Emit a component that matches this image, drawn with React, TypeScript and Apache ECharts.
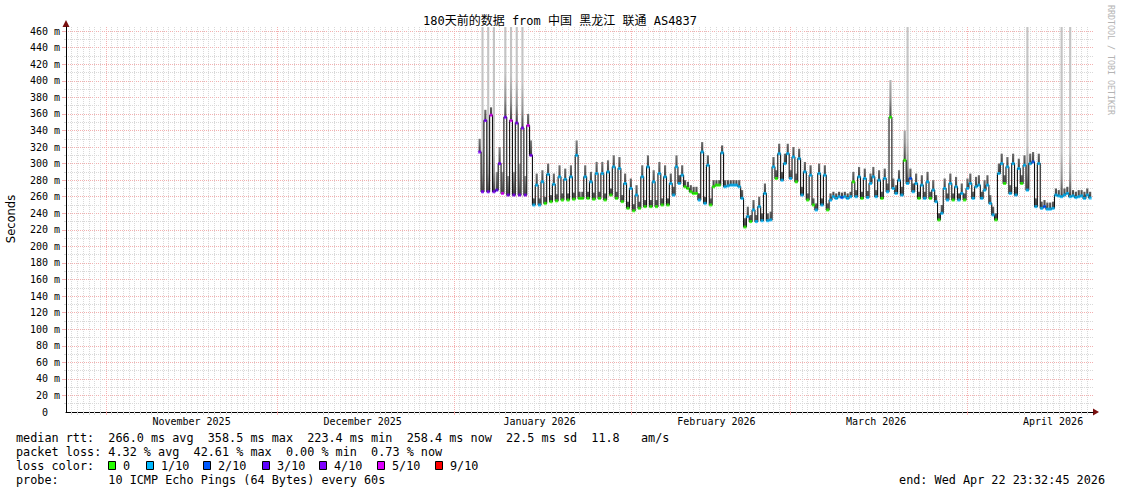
import React, { useEffect, useRef } from "react";
import * as echarts from "echarts";

// ---- time axis: days since 2025-10-25 00:00 (180-day window) ----
const X_MIN = 0;
const X_MAX = 180;
const Y_MAX = 465;
const START_DAY = 72.5; // first sample (2026-01-05 12:00)
const STEP_DAYS = 0.5; // one sample every 12 hours

const monthStartDays = [7, 37, 68, 99, 127, 158];
const monthLabelDays = [22, 52, 83, 114, 142, 173];
const monthLabels = ["November 2025", "December 2025", "January 2026", "February 2026", "March 2026", "April 2026"];

const yLabelTicks = [0, 20, 40, 60, 80, 100, 120, 140, 160, 180, 200, 220, 240, 260, 280, 300, 320, 340, 360, 380, 400, 420, 440, 460];
const yMajorLines = [20, 40, 60, 80, 100, 120, 140, 160, 180, 200, 220, 240, 260, 280, 300, 320, 340, 360, 380, 400, 420, 440, 460];
const yMinorLines = [10, 30, 50, 70, 90, 110, 130, 150, 170, 190, 210, 230, 250, 270, 290, 310, 330, 350, 370, 390, 410, 430, 450];

// median RTT (ms), one value per 12 h
const medianRtt = [
  314, 266, 352, 266, 358.5, 266, 268, 300, 264, 356,
  262, 352, 262, 349, 262, 343, 262, 346, 310, 250,
  274, 250, 278, 252, 287, 254, 275, 255, 284, 256,
  281, 256, 284, 257, 310, 258, 258, 284, 258, 278,
  257, 288, 258, 288, 256, 290, 262, 296, 258, 294,
  254, 276, 246, 270, 243, 262, 246, 284, 248, 296,
  248, 278, 248, 288, 250, 284, 250, 276, 262, 296,
  276, 286, 272, 270, 266, 264, 264, 256, 314, 252,
  298, 250, 272, 274, 274, 313, 272, 273, 274, 274,
  274, 272, 258, 223.4, 236, 230, 244, 230, 248, 231,
  264, 231, 232, 296, 282, 312, 280, 300, 312, 282,
  308, 278, 306, 262, 290, 256, 286, 250, 244, 288,
  250, 286, 244, 256, 260, 258, 260, 259, 260, 258,
  260, 278, 260, 284, 258, 282, 259, 276, 284, 260,
  280, 258, 282, 266, 356, 270, 264, 280, 262, 304,
  276, 282, 266, 276, 258, 274, 258, 278, 258, 268,
  254, 232, 240, 270, 256, 276, 256, 272, 256, 264,
  256, 270, 276, 258, 272, 274, 258, 268, 274, 252,
  238, 232, 288, 300, 276, 296, 264, 300, 262, 294,
  276, 298, 268, 300, 302, 248, 300, 246, 248, 245,
  245, 246, 262, 261, 260, 262, 264, 260, 261, 259,
  260, 261, 258, 262, 258.4,
];

// highest ping of each sample (top of the smoke), ms
const smokeHigh = [
  330, 470, 365, 470, 368, 470, 290, 320, 290, 470,
  285, 470, 290, 470, 300, 470, 285, 360, 328, 258,
  288, 258, 292, 260, 300, 262, 288, 263, 298, 264,
  294, 264, 298, 265, 328, 266, 266, 298, 266, 290,
  265, 302, 266, 302, 264, 304, 270, 310, 266, 308,
  262, 288, 254, 282, 251, 274, 254, 298, 256, 310,
  256, 292, 256, 302, 258, 298, 258, 288, 272, 310,
  286, 298, 280, 278, 274, 272, 272, 264, 326, 260,
  310, 258, 280, 280, 280, 322, 280, 280, 280, 280,
  280, 280, 268, 234, 248, 238, 256, 238, 260, 240,
  276, 240, 242, 308, 292, 324, 290, 312, 324, 292,
  320, 288, 318, 272, 302, 264, 298, 258, 252, 300,
  258, 298, 252, 264, 266, 264, 266, 265, 266, 264,
  266, 290, 268, 296, 266, 294, 267, 288, 296, 268,
  292, 266, 294, 276, 401, 282, 274, 292, 272, 340,
  470, 294, 276, 288, 266, 286, 266, 290, 266, 280,
  262, 240, 250, 282, 264, 288, 264, 284, 264, 276,
  264, 282, 288, 266, 284, 286, 266, 280, 286, 262,
  248, 240, 300, 312, 286, 308, 274, 312, 272, 306,
  286, 310, 470, 312, 314, 258, 312, 254, 256, 253,
  253, 254, 270, 268, 470, 270, 272, 470, 268, 266,
  268, 268, 266, 270, 266,
];

// packet loss level per sample (x/10)
const lossLevel = [
  4, 4, 4, 4, 5, 4, 3, 4, 5, 4,
  4, 5, 4, 4, 4, 4, 4, 5, 4, 1,
  1, 1, 1, 0, 1, 0, 1, 0, 1, 0,
  1, 0, 1, 0, 1, 0, 0, 1, 0, 1,
  0, 1, 0, 1, 0, 1, 0, 1, 0, 1,
  0, 1, 0, 1, 0, 1, 0, 1, 0, 1,
  0, 1, 0, 1, 0, 1, 0, 1, 1, 1,
  1, 1, 0, 0, 0, 0, 0, 1, 1, 1,
  1, 0, 0, 0, 0, 1, 1, 1, 1, 1,
  1, 1, 1, 0, 1, 0, 1, 1, 1, 1,
  1, 1, 1, 1, 0, 1, 1, 1, 1, 1,
  1, 0, 1, 1, 1, 0, 1, 0, 1, 1,
  1, 1, 0, 1, 1, 1, 1, 2, 1, 1,
  1, 0, 1, 1, 0, 1, 1, 1, 1, 1,
  1, 0, 1, 1, 0, 1, 1, 1, 1, 0,
  1, 2, 1, 1, 0, 1, 1, 1, 0, 1,
  1, 0, 1, 1, 1, 1, 0, 1, 1, 1,
  0, 1, 1, 1, 1, 1, 1, 1, 1, 1,
  1, 0, 1, 1, 0, 1, 1, 1, 1, 1,
  0, 1, 1, 1, 2, 1, 1, 1, 2, 1,
  1, 1, 1, 1, 1, 1, 1, 1, 1, 1,
  1, 1, 1, 1, 1,
];

const lossColors: Record<number, string> = {
  0: "#26ff00",
  1: "#00b8ff",
  2: "#0059ff",
  3: "#5e00ff",
  4: "#7e00ff",
  5: "#dd00ff",
  9: "#ff0000",
};
const lossLegendLabels = ["0", "1/10", "2/10", "3/10", "4/10", "5/10", "9/10"];
const lossLegendLevels = [0, 1, 2, 3, 4, 5, 9];

const TITLE = "180天前的数据 from 中国 黑龙江 联通 AS4837";
const statLines = [
  "median rtt:  266.0 ms avg  358.5 ms max  223.4 ms min  258.4 ms now  22.5 ms sd  11.8   am/s",
  "packet loss: 4.32 % avg  42.61 % max  0.00 % min  0.73 % now",
];
const probeText = "probe:       10 ICMP Echo Pings (64 Bytes) every 60s";
const endText = "end: Wed Apr 22 23:32:45 2026";

const MONO = '"DejaVu Sans Mono", monospace';
const MINOR_GRID = "#d9d9d9";
const MAJOR_GRID = "#f3b0b0";

export default function App() {
  const ref = useRef<HTMLDivElement>(null);

  useEffect(() => {
    if (!ref.current) return;
    const chart = echarts.init(ref.current, null, { renderer: "svg" });

    const xs = medianRtt.map((_, i) => START_DAY + i * STEP_DAYS);
    const smokeData = medianRtt.map((v, i) => [xs[i], v, smokeHigh[i]]);
    const lineData = medianRtt.map((v, i) => [xs[i], v]);
    const lossData = medianRtt.map((v, i) => ({
      value: [xs[i], v],
      itemStyle: { color: lossColors[lossLevel[i] ?? 0] },
    }));
    const minorDays: number[] = [];
    for (let d = X_MIN + 1; d < X_MAX; d++) if (!monthStartDays.includes(d)) minorDays.push(d);

    const xBase: any = {
      type: "value",
      min: X_MIN,
      max: X_MAX,
      position: "bottom",
      axisLabel: { show: false },
      axisLine: { show: false },
      splitLine: { show: false },
      axisTick: { show: false },
    };

    const legendBoxX = [108, 146, 203, 262, 319, 377, 435];
    const graphics: any[] = [
      {
        type: "text",
        x: 560,
        y: 21,
        style: {
          text: TITLE,
          fill: "#000",
          fontSize: 12,
          fontFamily: '"DejaVu Sans Mono", "Noto Sans CJK SC", monospace',
          align: "center",
          verticalAlign: "middle",
          textAlign: "center",
          textVerticalAlign: "middle",
        },
      },
      {
        type: "text",
        x: 10.5,
        y: 219,
        rotation: Math.PI / 2,
        style: {
          text: "Seconds",
          fill: "#000",
          fontSize: 11.5,
          fontFamily: '"DejaVu Sans", sans-serif',
          align: "center",
          verticalAlign: "middle",
          textAlign: "center",
          textVerticalAlign: "middle",
        },
      },
      {
        type: "text",
        x: 1111,
        y: 60,
        rotation: -Math.PI / 2,
        style: {
          text: "RRDTOOL / TOBI OETIKER",
          fill: "#b4b4b4",
          fontSize: 8.3,
          fontFamily: MONO,
          align: "center",
          verticalAlign: "middle",
          textAlign: "center",
          textVerticalAlign: "middle",
        },
      },
      // axis arrows
      {
        type: "polygon",
        shape: { points: [[62.5, 27], [69.5, 27], [66, 20]] },
        style: { fill: "#7a1010" },
      },
      {
        type: "polygon",
        shape: { points: [[1093, 408.5], [1093, 415.5], [1099, 412]] },
        style: { fill: "#7a1010" },
      },
    ];
    statLines.forEach((t, k) => {
      graphics.push({
        type: "text",
        x: 16,
        y: 438 + k * 14,
        style: { text: t, fill: "#000", fontSize: 11.8, fontFamily: MONO, verticalAlign: "middle", textVerticalAlign: "middle" },
      });
    });
    graphics.push({
      type: "text",
      x: 16,
      y: 466,
      style: { text: "loss color:", fill: "#000", fontSize: 11.8, fontFamily: MONO, verticalAlign: "middle", textVerticalAlign: "middle" },
    });
    lossLegendLabels.forEach((lab, k) => {
      graphics.push({
        type: "rect",
        shape: { x: legendBoxX[k] + 0.5, y: 461.5, width: 7, height: 8 },
        style: { fill: lossColors[lossLegendLevels[k]], stroke: "#000", lineWidth: 1 },
      });
      graphics.push({
        type: "text",
        x: legendBoxX[k] + 15,
        y: 466,
        style: { text: lab, fill: "#000", fontSize: 11.8, fontFamily: MONO, verticalAlign: "middle", textVerticalAlign: "middle" },
      });
    });
    graphics.push({
      type: "text",
      x: 16,
      y: 480,
      style: { text: probeText, fill: "#000", fontSize: 11.8, fontFamily: MONO, verticalAlign: "middle", textVerticalAlign: "middle" },
    });
    graphics.push({
      type: "text",
      x: 1105,
      y: 480,
      style: {
        text: endText,
        fill: "#000",
        fontSize: 11.8,
        fontFamily: MONO,
        align: "right",
        textAlign: "right",
        verticalAlign: "middle",
        textVerticalAlign: "middle",
      },
    });

    chart.setOption({
      animation: false,
      backgroundColor: "#ffffff",
      grid: { left: 66, right: 28, top: 27, bottom: 82, containLabel: false },
      xAxis: [
        {
          ...xBase,
          axisTick: { show: true, customValues: minorDays, length: 3, lineStyle: { color: MINOR_GRID } },
          splitLine: { show: true, lineStyle: { color: MINOR_GRID, type: [1, 1], width: 1 } },
        },
        {
          ...xBase,
          axisTick: { show: true, customValues: monthStartDays, length: 3, lineStyle: { color: MAJOR_GRID } },
          splitLine: { show: true, lineStyle: { color: MAJOR_GRID, type: [1, 1], width: 1 } },
        },
        {
          ...xBase,
          axisLine: { show: true, lineStyle: { color: "#000", width: 1 } },
          axisLabel: {
            show: true,
            customValues: monthLabelDays,
            formatter: (v: number) => {
              const k = monthLabelDays.indexOf(Math.round(v));
              return k >= 0 ? monthLabels[k] : "";
            },
            fontFamily: MONO,
            fontSize: 10,
            color: "#000",
            margin: 4,
          },
        },
      ],
      yAxis: [
        {
          type: "value",
          min: 0,
          max: Y_MAX,
          position: "left",
          axisLine: { show: true, lineStyle: { color: "#000", width: 1 } },
          axisTick: { show: true, customValues: yMajorLines, length: 4, lineStyle: { color: MAJOR_GRID } },
          axisLabel: {
            show: true,
            customValues: yLabelTicks,
            formatter: (v: number) => (v === 0 ? "0\u00a0\u00a0" : `${v} m`),
            fontFamily: MONO,
            fontSize: 10,
            color: "#000",
            margin: 6,
          },
          splitLine: { show: true, lineStyle: { color: MAJOR_GRID, type: [1, 1], width: 1 } },
        },
        {
          type: "value",
          min: 0,
          max: Y_MAX,
          position: "left",
          axisLine: { show: false },
          axisTick: { show: true, customValues: yMinorLines, length: 2, lineStyle: { color: MINOR_GRID } },
          axisLabel: { show: false },
          splitLine: { show: true, lineStyle: { color: MINOR_GRID, type: [1, 1], width: 1 } },
        },
      ],
      series: [
        {
          type: "custom",
          name: "smoke",
          xAxisIndex: 0,
          yAxisIndex: 0,
          data: smokeData,
          encode: { x: 0, y: [1, 2] },
          silent: true,
          z: 2,
          renderItem: (params: any, api: any) => {
            const x = api.value(0);
            const med = api.value(1);
            const hi = Math.min(api.value(2), Y_MAX);
            const pLo = api.coord([x, med]);
            const pHi = api.coord([x, hi]);
            const w = api.size([STEP_DAYS, 0])[0] * 0.75;
            return {
              type: "rect",
              shape: { x: pLo[0] - w / 2, y: pHi[1], width: w, height: Math.max(0, pLo[1] - pHi[1]) },
              style: {
                fill: new echarts.graphic.LinearGradient(
                  0,
                  pLo[1],
                  0,
                  pLo[1] - 45,
                  [
                    { offset: 0, color: "#404040" },
                    { offset: 0.4, color: "#909090" },
                    { offset: 1, color: "#c4c4c4" },
                  ],
                  true
                ),
              },
            };
          },
        },
        {
          type: "line",
          name: "median",
          xAxisIndex: 0,
          yAxisIndex: 0,
          data: lineData,
          step: "middle",
          symbol: "none",
          silent: true,
          z: 3,
          lineStyle: { color: "#111", width: 1.1 },
        },
        {
          type: "scatter",
          name: "loss",
          xAxisIndex: 0,
          yAxisIndex: 0,
          data: lossData,
          symbol: "rect",
          symbolSize: [3, 3],
          silent: true,
          z: 4,
        },
      ],
      graphic: { elements: graphics },
    });

    return () => chart.dispose();
  }, []);

  return (
    <div
      ref={ref}
      style={{ position: "fixed", left: 0, top: 0, width: 1121, height: 494, background: "#fff" }}
    />
  );
}
